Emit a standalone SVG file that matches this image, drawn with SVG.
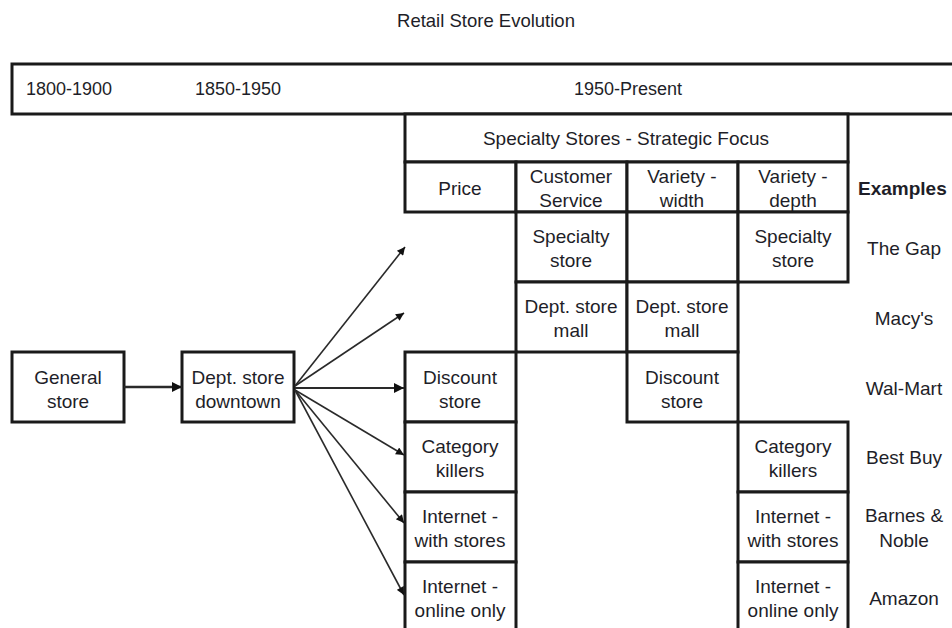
<svg xmlns="http://www.w3.org/2000/svg" width="952" height="628" viewBox="0 0 952 628">
<style>
  text { font-family: "Liberation Sans", Arial, sans-serif; font-size: 19px; fill: #1e1e28; text-anchor: middle; }
  .t { font-size: 18px; }
  .title { font-size: 18.5px; }
  .b { font-weight: bold; text-anchor: start; }
  .s { text-anchor: start; }
  rect { fill: #fff; stroke: #1a1a1a; stroke-width: 3; }
  .conn line { stroke: #2a2a2a; stroke-width: 1.6; }
</style>
<defs>
  <marker id="ah" viewBox="0 0 10 10" refX="10" refY="5" markerWidth="10" markerHeight="8" markerUnits="userSpaceOnUse" orient="auto">
    <path d="M0,0 L10,5 L0,10 Z" fill="#111"/>
  </marker>
  <marker id="ah2" viewBox="0 0 10 10" refX="10" refY="5" markerWidth="12" markerHeight="10" markerUnits="userSpaceOnUse" orient="auto">
    <path d="M0,0 L10,5 L0,10 Z" fill="#111"/>
  </marker>
</defs>
<rect x="0" y="0" width="952" height="628" style="stroke:none;fill:#fff"/>
<text class="title" x="486" y="27">Retail Store Evolution</text>

<g id="timeline">
  <rect x="12" y="64" width="960" height="50"/>
  <text class="t s" x="26" y="95">1800-1900</text>
  <text class="t s" x="195" y="95">1850-1950</text>
  <text class="t" x="628" y="95">1950-Present</text>
</g>

<g id="header">
  <rect x="405" y="114" width="443" height="48"/>
  <text x="626" y="145">Specialty Stores - Strategic Focus</text>
  <rect x="405" y="162" width="111" height="50"/>
  <text x="460" y="195">Price</text>
  <rect x="516" y="162" width="111" height="50"/>
  <text x="571" y="183">Customer</text><text x="571" y="207">Service</text>
  <rect x="627" y="162" width="111" height="50"/>
  <text x="682" y="183">Variety -</text><text x="682" y="207">width</text>
  <rect x="738" y="162" width="110" height="50"/>
  <text x="793" y="183">Variety -</text><text x="793" y="207">depth</text>
  <text class="b" x="858" y="195">Examples</text>
</g>

<g id="row-gap">
  <rect x="516" y="212" width="111" height="70"/>
  <text x="571" y="243">Specialty</text><text x="571" y="267">store</text>
  <rect x="627" y="212" width="111" height="70"/>
  <rect x="738" y="212" width="110" height="70"/>
  <text x="793" y="243">Specialty</text><text x="793" y="267">store</text>
  <text x="904" y="255">The Gap</text>
</g>

<g id="row-macys">
  <rect x="516" y="282" width="111" height="70"/>
  <text x="571" y="313">Dept. store</text><text x="571" y="337">mall</text>
  <rect x="627" y="282" width="111" height="70"/>
  <text x="682" y="313">Dept. store</text><text x="682" y="337">mall</text>
  <text x="904" y="325">Macy's</text>
</g>

<g id="row-walmart">
  <rect x="405" y="352" width="111" height="70"/>
  <text x="460" y="384">Discount</text><text x="460" y="408">store</text>
  <rect x="627" y="352" width="111" height="70"/>
  <text x="682" y="384">Discount</text><text x="682" y="408">store</text>
  <text x="904" y="395">Wal-Mart</text>
</g>

<g id="row-bestbuy">
  <rect x="405" y="422" width="111" height="70"/>
  <text x="460" y="453">Category</text><text x="460" y="477">killers</text>
  <rect x="738" y="422" width="110" height="70"/>
  <text x="793" y="453">Category</text><text x="793" y="477">killers</text>
  <text x="904" y="464">Best Buy</text>
</g>

<g id="row-barnes">
  <rect x="405" y="492" width="111" height="70"/>
  <text x="460" y="523">Internet -</text><text x="460" y="547">with stores</text>
  <rect x="738" y="492" width="110" height="70"/>
  <text x="793" y="523">Internet -</text><text x="793" y="547">with stores</text>
  <text x="904" y="522">Barnes &amp;</text><text x="904" y="547">Noble</text>
</g>

<g id="row-amazon">
  <rect x="405" y="562" width="111" height="90"/>
  <text x="460" y="593">Internet -</text><text x="460" y="617">online only</text>
  <rect x="738" y="562" width="110" height="90"/>
  <text x="793" y="593">Internet -</text><text x="793" y="617">online only</text>
  <text x="904" y="605">Amazon</text>
</g>

<g id="general-store">
  <rect x="12" y="352" width="112" height="70"/>
  <text x="68" y="384">General</text><text x="68" y="408">store</text>
</g>
<g id="dept-downtown">
  <rect x="182" y="352" width="112" height="70"/>
  <text x="238" y="384">Dept. store</text><text x="238" y="408">downtown</text>
</g>

<g class="conn" id="connectors">
  <line x1="124" y1="387" x2="182" y2="387" marker-end="url(#ah2)" style="stroke-width:2.5"/>
  <line x1="295" y1="386" x2="405" y2="247" marker-end="url(#ah)"/>
  <line x1="295" y1="386" x2="404" y2="313" marker-end="url(#ah)"/>
  <line x1="295" y1="388" x2="404" y2="388" marker-end="url(#ah2)" style="stroke-width:2.2"/>
  <line x1="295" y1="390" x2="404" y2="455" marker-end="url(#ah)"/>
  <line x1="295" y1="390" x2="404" y2="523" marker-end="url(#ah)"/>
  <line x1="295" y1="390" x2="404" y2="595" marker-end="url(#ah)"/>
</g>
</svg>
